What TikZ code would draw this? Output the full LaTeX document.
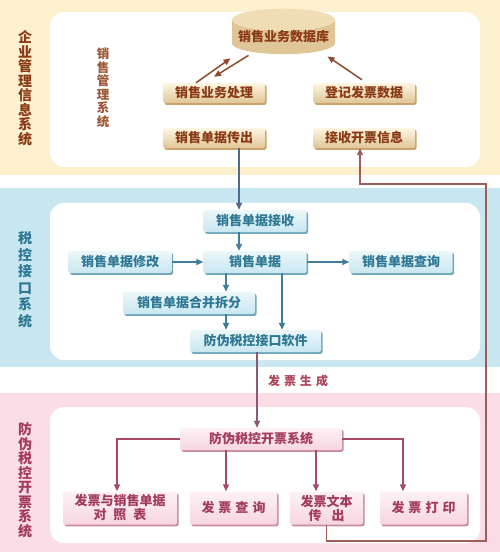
\documentclass[tikz,border=0pt]{standalone}
\usepackage{fontspec}
\setmainfont{Noto Sans CJK SC}
\usetikzlibrary{arrows.meta,shapes.geometric,shadows}
\definecolor{erpband}{HTML}{FDF0CF}
\definecolor{erptext}{HTML}{8A3A14}
\definecolor{erpline}{HTML}{8E4B2C}
\definecolor{erpshade}{HTML}{C9A36A}
\definecolor{taxband}{HTML}{C9E7F0}
\definecolor{taxtext}{HTML}{2F7895}
\definecolor{taxline}{HTML}{3D7F9A}
\definecolor{taxshade}{HTML}{6FA5BA}
\definecolor{invband}{HTML}{FBDDE8}
\definecolor{invtext}{HTML}{A33C5C}
\definecolor{invline}{HTML}{A64A63}
\definecolor{invshade}{HTML}{C98AA2}
\definecolor{linkline}{HTML}{4F6A8C}
\definecolor{loopline}{HTML}{9C5E58}
\newcommand{\cg}[1][4bp]{\hspace{#1}}

\begin{document}
\begin{tikzpicture}[x=1bp,y=-1bp,
  box/.style={rounded corners=2bp, inner sep=0pt, align=center,
    font=\fontsize{13bp}{14bp}\selectfont\bfseries},
  erpbox/.style={box, top color=erpband!60!white, bottom color=erpshade!55!erpband,
    drop shadow={shadow xshift=1.5bp, shadow yshift=-1.8bp, fill=erpshade, opacity=1},
    text=erptext, minimum width=102bp, minimum height=20bp},
  taxbox/.style={box, top color=taxband!35!white, bottom color=taxband,
    drop shadow={shadow xshift=1.5bp, shadow yshift=-1.8bp, fill=taxshade, opacity=1},
    text=taxtext, minimum width=103bp, minimum height=22bp},
  invbox/.style={box, top color=invband!40!white, bottom color=invband!90!invshade,
    drop shadow={shadow xshift=1.5bp, shadow yshift=-1.8bp, fill=invshade, opacity=1},
    text=invtext, minimum width=87bp, minimum height=22bp},
  vlabel/.style={align=center, inner sep=0pt, font=\fontsize{14bp}{14.5bp}\selectfont\bfseries},
  erparrow/.style={draw=erpline, line width=1.5bp, -{Triangle[length=7bp,width=6bp]}},
  taxarrow/.style={draw=taxline, line width=1.5bp, -{Triangle[length=7bp,width=6bp]}},
  invarrow/.style={draw=invline, line width=1.5bp, -{Triangle[length=7bp,width=6bp]}}]
  \useasboundingbox (0,0) rectangle (500,552);

  % three bands
  \fill[erpband] (0,0) rectangle (500,175);
  \fill[white, rounded corners=14bp] (50,12) rectangle (480,167);
  \fill[taxband] (0,188) rectangle (500,367);
  \fill[white, rounded corners=14bp] (50,203) rectangle (480,360);
  \fill[invband] (0,393) rectangle (500,552);
  \fill[white, rounded corners=14bp] (50,407) rectangle (480,543);

  % band titles
  \node[vlabel, text=erptext] (erptitle) at (25,88) {企\\业\\管\\理\\信\\息\\系\\统};
  \node[vlabel, text=erptext!85!white, font=\fontsize{12.5bp}{13.5bp}\selectfont\bfseries] (saletitle) at (103,88) {销\\售\\管\\理\\系\\统};
  \node[vlabel, text=taxtext, font=\fontsize{14bp}{16.5bp}\selectfont\bfseries] (taxtitle) at (25,280) {税\\控\\接\\口\\系\\统};
  \node[vlabel, text=invtext] (invtitle) at (25,480) {防\\伪\\税\\控\\开\\票\\系\\统};

  % sales management system
  \node[cylinder, shape border rotate=90, aspect=0.24, draw=none,
    cylinder uses custom fill, cylinder body fill=erpshade!55!erpband,
    cylinder end fill=erpband!75!erpshade, minimum width=103bp, minimum height=40bp,
    inner sep=0pt, text=erptext, font=\fontsize{13bp}{14bp}\selectfont\bfseries] (db) at (283.5,37) {销售业务数据库};
  \node[erpbox] (proc) at (214,93) {销售业务处理};
  \node[erpbox] (reg) at (364,93) {登记发票数据};
  \node[erpbox] (send) at (214,138) {销售单据传出};
  \node[erpbox] (recv) at (364,138) {接收开票信息};

  \draw[erparrow] ([xshift=-18bp]proc.north) -- ([xshift=-53bp,yshift=-4bp]db.south);
  \draw[erparrow] ([xshift=-35bp,yshift=-1bp]db.south) -- ([yshift=6bp]proc.north);
  \draw[erparrow] ([xshift=-2bp,yshift=3bp]reg.north) -- ([xshift=44bp,yshift=-2bp]db.south);

  % tax control interface
  \node[taxbox] (trecv) at (255,221) {销售单据接收};
  \node[taxbox] (bill) at (255,262) {销售单据};
  \node[taxbox] (edit) at (120,262) {销售单据修改};
  \node[taxbox] (query) at (401,262) {销售单据查询};
  \node[taxbox, minimum width=132bp] (merge) at (189,303) {销售单据合并拆分};
  \node[taxbox, minimum width=131bp] (iface) at (255.5,341) {防伪税控接口软件};

  \coordinate (xa) at (239,0);
  \coordinate (xb) at (226,0);
  \coordinate (xc) at (282,0);
  \draw[taxarrow, draw=linkline] (send.south -| xa) -- (trecv.north -| xa);
  \draw[taxarrow] (trecv.south -| xa) -- (bill.north -| xa);
  \draw[taxarrow] (edit.east) -- (bill.west);
  \draw[taxarrow] (bill.east) -- (query.west);
  \draw[taxarrow] (bill.south -| xb) -- (merge.north -| xb);
  \draw[taxarrow] (merge.south -| xb) -- (iface.north -| xb);
  \draw[taxarrow] (bill.south -| xc) -- (iface.north -| xc);

  % invoicing system
  \node[invbox, minimum width=162bp] (kp) at (261,439) {防伪税控开票系统};
  \node[invbox, minimum width=114bp, minimum height=33bp] (cmp) at (120,508) {发票与销售单据\\对\cg[7bp]照\cg[7bp]表};
  \node[invbox, minimum height=33bp] (qry) at (233.5,508) {发\cg 票\cg 查\cg 询};
  \node[invbox, minimum width=73bp, minimum height=33bp] (txt) at (326.5,508) {发票文本\\传\cg[10bp]出};
  \node[invbox, minimum height=33bp] (prt) at (423.5,508) {发\cg 票\cg 打\cg 印};
  \node[text=invline!90!red, inner sep=0pt, font=\fontsize{12bp}{14bp}\selectfont\bfseries] (gen) at (298,381) {发\cg 票\cg 生\cg 成};

  \coordinate (xd) at (257,0);
  \coordinate (xe) at (226,0);
  \coordinate (xf) at (316,0);
  \coordinate (xg) at (403,0);
  \draw[invarrow, draw=invline!70!taxline] (iface.south -| xd) -- (kp.north -| xd);
  \draw[invarrow] (kp.west) -| ([xshift=-3bp]cmp.north);
  \draw[invarrow] (kp.south -| xe) -- (qry.north -| xe);
  \draw[invarrow] (kp.south -| xf) -- (txt.north -| xf);
  \draw[invarrow] (kp.east) -| (prt.north -| xg);

  % invoice data back to the sales system
  \coordinate (lpb) at (486,541);
  \coordinate (lpt) at (486,184);
  \draw[draw=loopline, line width=1.2bp, -{Triangle[length=7bp,width=6bp]}]
    (txt.south) |- (lpb) -- (lpt) -| ([xshift=-4bp]recv.south);
\end{tikzpicture}
\end{document}
